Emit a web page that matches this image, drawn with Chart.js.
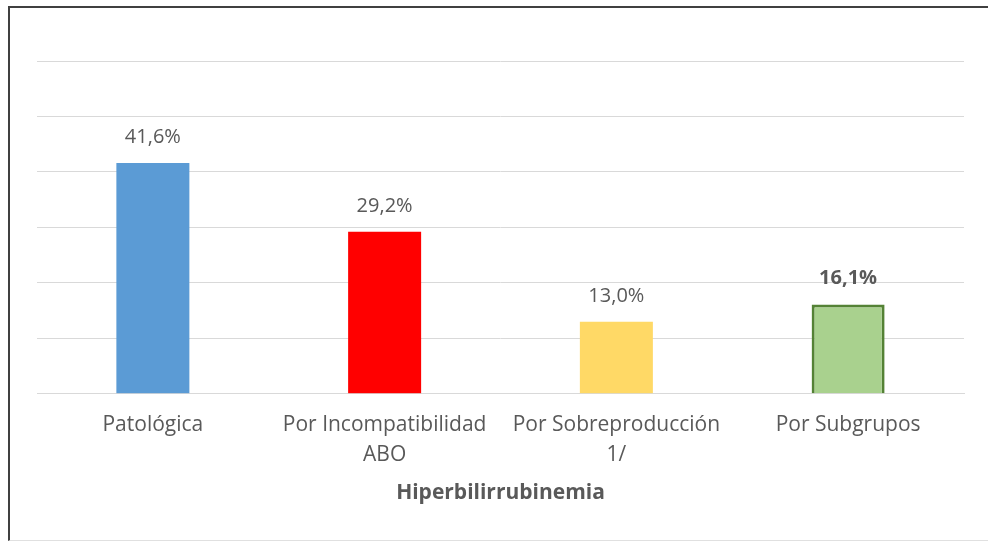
<!DOCTYPE html>
<html>
<head>
<meta charset="utf-8">
<script src="https://cdn.jsdelivr.net/npm/chart.js@4.4.0/dist/chart.umd.min.js"></script>
<style>
  html, body { margin: 0; padding: 0; background: #fff; }
  #wrap { position: relative; width: 988px; height: 541px; }
  #frame { position: absolute; left: 8px; top: 6px; width: 990px; height: 532px;
           border-top: 2px solid #404040; border-left: 2px solid #404040; border-bottom: 1px solid #e0e0e0; pointer-events: none; }
  canvas { position: absolute; left: 0; top: 0; }
</style>
</head>
<body>
<div id="wrap">
  <canvas id="c" width="988" height="541"></canvas>
  <div id="frame"></div>
</div>
<script>
const categories = ['Patológica', ['Por Incompatibilidad', 'ABO'], ['Por Sobreproducción', '1/'], 'Por Subgrupos'];
const values = [41.6, 29.2, 13.0, 16.1];
const valueLabels = ['41,6%', '29,2%', '13,0%', '16,1%'];
const barColors = ['#5B9BD5', '#FF0000', '#FFD966', '#A9D18E'];
const borderColors = ['#5B9BD5', '#FF0000', '#FFD966', '#548235'];
const borderWidths = [0, 0, 0, 3];
const boldLabel = [false, false, false, true];
const yTicks = { min: 0, max: 60, step: 10 };
const axisTitle = 'Hiperbilirrubinemia';

const FONT = "'Open Sans', 'Noto Sans', sans-serif";

const labelPlugin = {
  id: 'valueLabels',
  afterDatasetsDraw(chart) {
    const ctx = chart.ctx;
    const meta = chart.getDatasetMeta(0);
    ctx.save();
    ctx.textAlign = 'center';
    ctx.textBaseline = 'alphabetic';
    ctx.fillStyle = '#595959';
    meta.data.forEach((bar, i) => {
      ctx.font = (boldLabel[i] ? 'bold ' : '') + '20px ' + FONT;
      ctx.fillText(valueLabels[i], bar.x, bar.y - 20);
    });
    ctx.restore();
  }
};

new Chart(document.getElementById('c'), {
  type: 'bar',
  data: {
    labels: categories,
    datasets: [{
      data: values,
      backgroundColor: barColors,
      borderColor: borderColors,
      borderWidth: borderWidths,
      categoryPercentage: 1.0,
      barPercentage: 0.315
    }]
  },
  options: {
    responsive: false,
    animation: false,
    devicePixelRatio: 1,
    layout: { padding: { left: 37, right: 24, top: 61, bottom: 35 } },
    plugins: { legend: { display: false }, tooltip: { enabled: false } },
    scales: {
      y: {
        display: true,
        min: yTicks.min, max: yTicks.max,
        ticks: { display: false, stepSize: yTicks.step },
        grid: { color: '#d9d9d9', lineWidth: 1, drawTicks: false },
        border: { display: false }
      },
      x: {
        grid: { display: false },
        border: { display: true, color: '#d9d9d9', width: 1 },
        ticks: { color: '#595959', font: { family: FONT, size: 21, lineHeight: 1.43 }, padding: 8, maxRotation: 0, autoSkip: false },
        title: { display: true, text: axisTitle, color: '#595959', font: { family: FONT, size: 21, weight: 'bold', lineHeight: 1.2 }, padding: { top: 3, bottom: 0 } }
      }
    }
  },
  plugins: [labelPlugin]
});
</script>
</body>
</html>
